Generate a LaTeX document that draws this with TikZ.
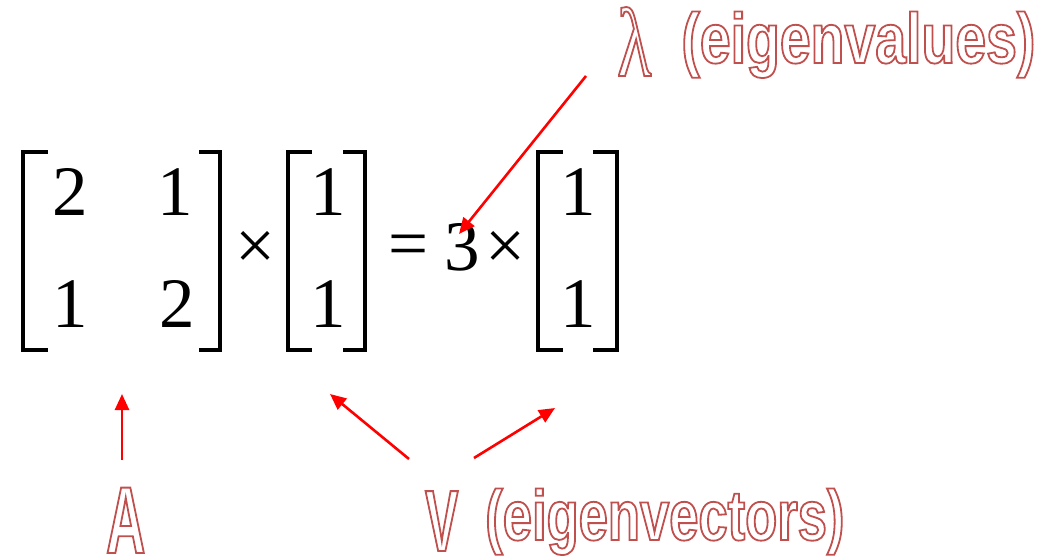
\documentclass[tikz,border=0pt]{standalone}
\usepackage{fontspec}
\setmainfont{Liberation Serif}
\newfontfamily\lblfontT[FakeStretch=0.78]{Liberation Sans Bold}
\newfontfamily\lblfontB[FakeStretch=0.74]{Liberation Sans Bold}
\newfontfamily\capfont[FakeStretch=0.57]{Liberation Sans Bold}
\newfontfamily\lamfont[FakeStretch=0.72]{Liberation Serif}
\usetikzlibrary{arrows.meta}
\definecolor{lblred}{HTML}{C0504D}
\newcommand\outlinetext[1]{\special{pdf:literal direct 1 Tr 1.8 w}#1\special{pdf:literal direct 0 Tr}}
\tikzset{
  num/.style={inner sep=0pt, anchor=base, font=\fontsize{71}{71}\selectfont},
  op/.style={inner sep=0pt, anchor=center, font=\fontsize{71}{71}\selectfont},
  brk/.style={line width=3.3pt, line cap=butt, line join=miter},
  lbl/.style={inner sep=0pt, anchor=base west, text=lblred},
  arr/.style={red, line width=2.6pt, -{Triangle[length=16pt,width=14pt]}}
}
\begin{document}
\begin{tikzpicture}[x=1pt,y=-1pt]
\useasboundingbox (0,0) rectangle (1040,559);
% matrix A
\draw[brk] (48,152) -- (23,152) -- (23,350) -- (48,350);
\draw[brk] (199,152) -- (220,152) -- (220,350) -- (199,350);
\node[num] (a11) at (70.5,215) {2};
\node[num] (a12) at (175,215) {1};
\node[num] (a21) at (70,327) {1};
\node[num] (a22) at (177.5,327) {2};
\node[op] (t1) at (255.5,250.5) {×};
% vector v
\draw[brk] (312,152) -- (288,152) -- (288,350) -- (312,350);
\draw[brk] (343,152) -- (365,152) -- (365,350) -- (343,350);
\node[num] (v1) at (328,215) {1};
\node[num] (v2) at (328,327) {1};
\node[op] (eq) at (409,251) {=};
\node[num] (three) at (462,270) {3};
\node[op] (t2) at (506,250) {×};
% vector w
\draw[brk] (563,152) -- (538,152) -- (538,350) -- (563,350);
\draw[brk] (593,152) -- (617,152) -- (617,350) -- (593,350);
\node[num] (w1) at (578.5,215) {1};
\node[num] (w2) at (578.5,327) {1};
% labels
\node[lbl] (lam) at (617,63) {\outlinetext{\raisebox{-13pt}{\lamfont\fontsize{98}{98}\selectfont λ}\hspace{30pt}{\lblfontT\fontsize{71}{71}\selectfont (eigenvalues)}}};
\node[lbl] (A) at (106,553) {\outlinetext{\capfont\fontsize{95}{95}\selectfont A}};
\node[lbl] (V) at (425,551) {\outlinetext{{\capfont\fontsize{87}{87}\selectfont V}\hspace{27pt}\raisebox{11pt}{\lblfontB\fontsize{71}{71}\selectfont (eigenvectors)}}};
% arrows
\coordinate (lamS) at (586,76);
\coordinate (lamE) at (459,234);
\coordinate (aS) at (122,460);
\coordinate (aE) at (122,394);
\coordinate (v1S) at (409,459);
\coordinate (v1E) at (330,394);
\coordinate (v2S) at (474,458);
\coordinate (v2E) at (555,408);
\draw[arr] (lamS) -- (lamE);
\draw[arr] (aS) -- (aE);
\draw[arr] (v1S) -- (v1E);
\draw[arr] (v2S) -- (v2E);
\end{tikzpicture}
\end{document}
